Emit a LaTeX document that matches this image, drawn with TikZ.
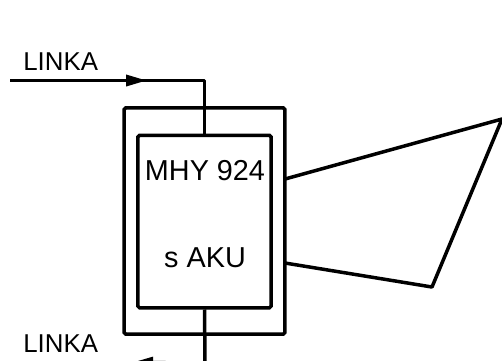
\documentclass[tikz,border=0pt]{standalone}
\usepackage{fontspec}
\setmainfont{Liberation Sans}
\usetikzlibrary{arrows.meta}
\usetikzlibrary{positioning}

\begin{document}
\begin{tikzpicture}[x=0.02cm,y=-0.02cm,
    wire/.style={black, line width=0.07cm, line join=round},
    box/.style={draw=black, line width=0.07cm, rounded corners=1pt, inner sep=0pt},
    linelabel/.style={inner sep=0pt, anchor=base west, font=\fontsize{14.7}{16}\selectfont},
    boxlabel/.style={inner sep=0pt, anchor=base, font=\fontsize{16.4}{18}\selectfont},
    tip/.style={-{Triangle[length=0.42cm,width=0.22cm]}}
  ]
  \clip (0,0) rectangle (502,360);

  % boxes
  \node[box, minimum width=3.22cm, minimum height=4.53cm] (Outer) at (204.5,221) {};
  \node[box, minimum width=2.67cm, minimum height=3.45cm] (Inner) at (204.5,221.5) {};

  \node[boxlabel] (TypeLabel) at (205,180) {MHY 924};
  \node[boxlabel] (AkuLabel) at (205,267) {s AKU};

  \node[linelabel] (InLabel) at (23,70) {LINKA};
  \node[linelabel] (OutLabel) at (23,352) {LINKA};

  % upper line
  \coordinate (InStart) at (10,80.5);
  \coordinate (InTip) at (147,80.5);
  \draw[wire] (InStart) -| (Inner.north);
  \draw[wire, tip] (InStart) -- (InTip);

  % lower line, runs out of the picture
  \coordinate (OutEnd) at (205,363);
  \coordinate (OutTip) at (132,362.5);
  \draw[wire] (Inner.south) -- (OutEnd);
  \draw[wire, tip] (OutEnd) -- (OutTip);

  % right side
  \coordinate (UpperOut) at (285,179);
  \coordinate (FarTop) at (502,119);
  \coordinate (FarLow) at (432,287);
  \coordinate (LowerOut) at (285,263);
  \draw[wire] (UpperOut) -- (FarTop) -- (FarLow) -- (LowerOut);
\end{tikzpicture}
\end{document}
